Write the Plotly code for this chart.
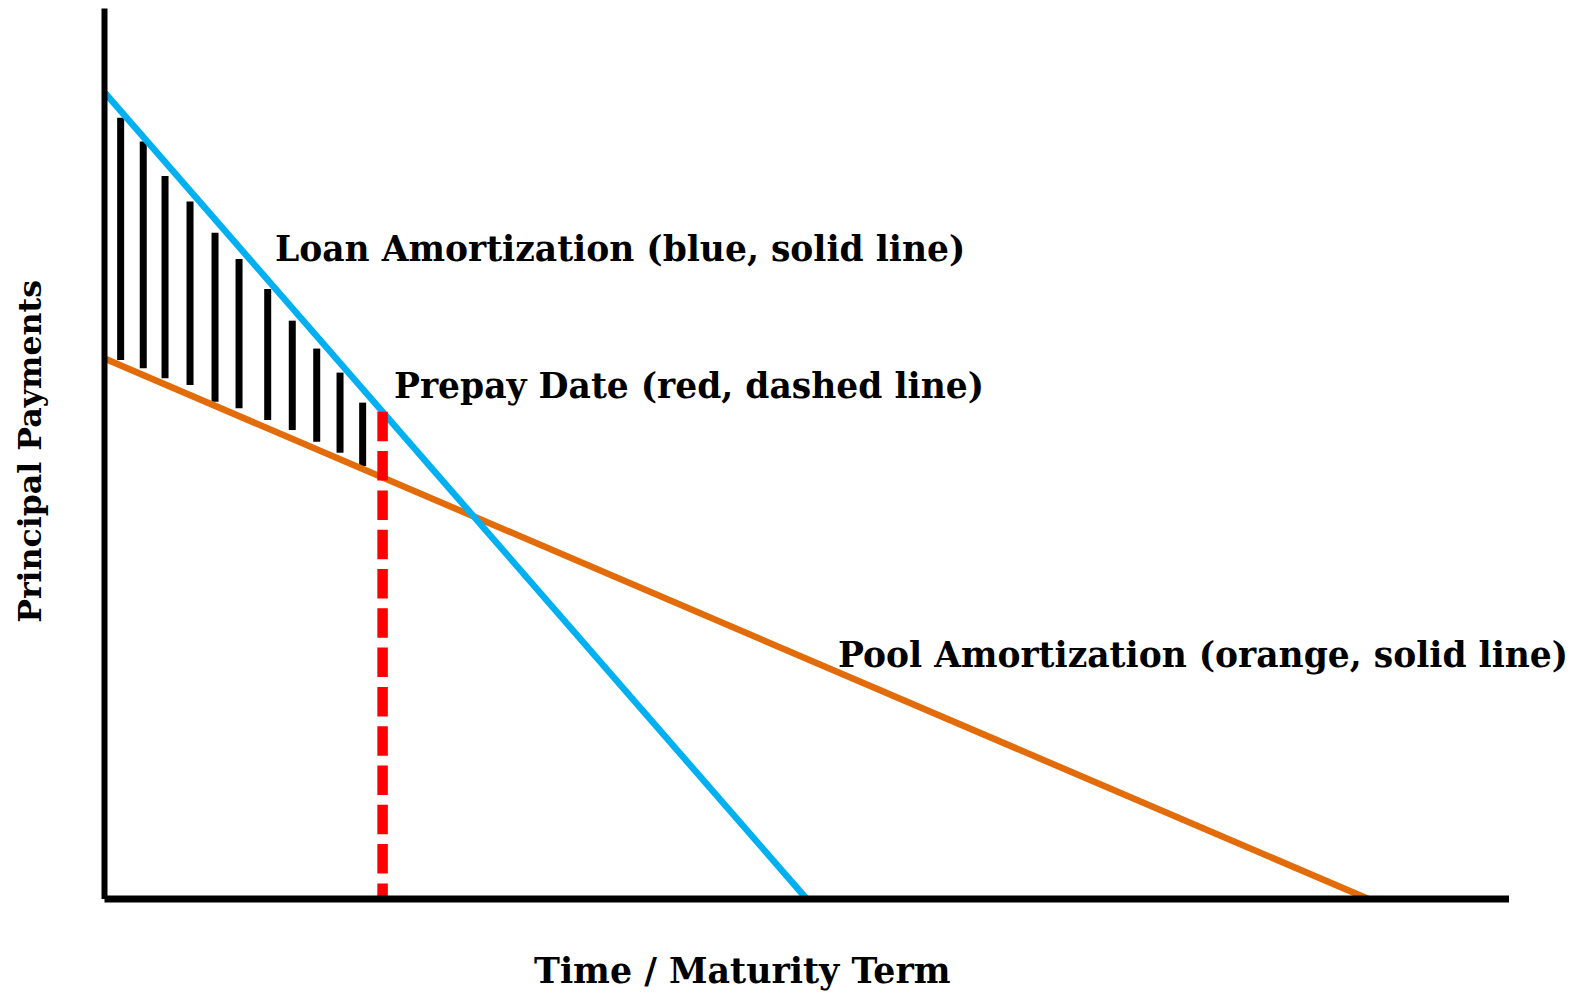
import plotly.graph_objects as go

# ---- data ----
loan_x = [0, 50]
loan_y = [100, 0]
pool_x = [0, 90]
pool_y = [67, 0]
prepay_x = [19.8, 19.8]
prepay_y = [60.4, 0]
hatch_x = [1.15, 2.76, 4.31, 6.09, 7.87, 9.58, 11.62, 13.37, 15.11, 16.77, 18.38]
hatch_top = [96.85, 93.9, 89.65, 86.47, 82.59, 79.35, 75.63, 71.7, 68.24, 65.26, 61.54]
hatch_bottom = [66.82, 65.79, 64.55, 63.72, 61.65, 60.83, 59.39, 58.14, 56.69, 55.33, 53.68]
x_axis_end = 100
y_axis_end = 110.4
labels = ["Loan Amortization (blue, solid line)",
          "Prepay Date (red, dashed line)",
          "Pool Amortization (orange, solid line)"]
label_pos = [(12.03, 80.6), (20.45, 63.6), (52.05, 30.2)]
x_title = "Time / Maturity Term"
y_title = "Principal Payments"

FONT = "DejaVu Serif"
S = 1574 / 1568  # shrunk-reading scale (used for title placement)
OFF = 8  # page body margin
W, H = 1574 - OFF, 996 - OFF
X0, Y0 = 104.5, 899.0       # page pixel of data origin
PXX = (1509 - X0) / 100     # pixels per x unit
PXY = (Y0 - 92.4) / 100     # pixels per y unit
L, R, T, B = 80 - OFF, 50, 0, 80
plot_left, plot_right = 80, 1574 - R           # page pixels
plot_top, plot_bottom = OFF, 996 - B

hx, hy = [], []
for x, t, b in zip(hatch_x, hatch_top, hatch_bottom):
    hx += [x, x, None]
    hy += [b, t, None]

fig = go.Figure()
fig.add_trace(go.Scatter(x=hx, y=hy, mode="lines",
                         line=dict(color="black", width=7), hoverinfo="skip"))
fig.add_trace(go.Scatter(x=pool_x, y=pool_y, mode="lines",
                         line=dict(color="#E36C0A", width=6.5)))
fig.add_trace(go.Scatter(x=loan_x, y=loan_y, mode="lines",
                         line=dict(color="#00B0F0", width=6.5)))
fig.add_trace(go.Scatter(x=prepay_x, y=prepay_y, mode="lines",
                         line=dict(color="#FF0000", width=10.5, dash="29.5px,9.8px")))
# axes lines
fig.add_trace(go.Scatter(x=[0, 0], y=[0, y_axis_end], mode="lines",
                         line=dict(color="black", width=6)))
fig.add_trace(go.Scatter(x=[0, x_axis_end], y=[0, 0], mode="lines",
                         line=dict(color="black", width=7)))

for txt, (x, y) in zip(labels, label_pos):
    fig.add_annotation(x=x, y=y, xref="x", yref="y", text="<b>%s</b>" % txt,
                       showarrow=False, xanchor="left", yanchor="middle",
                       font=dict(family=FONT, size=34.5, color="black"))

pw, ph = W - L - R, H - T - B


def paper_xy(px, py):
    # shrunk-reference pixel -> paper fraction
    px, py = px * S, py * S
    return (px - plot_left) / pw, (plot_bottom - py) / ph


ax, ay = paper_xy(740, 967)
fig.add_annotation(x=ax, y=ay, xref="paper", yref="paper",
                   text="<b>%s</b>" % x_title, showarrow=False,
                   xanchor="center", yanchor="middle",
                   font=dict(family=FONT, size=34.8, color="black"))
bx, by = paper_xy(30, 450)
fig.add_annotation(x=bx, y=by, xref="paper", yref="paper",
                   text="<b>%s</b>" % y_title, showarrow=False, textangle=-90,
                   xanchor="center", yanchor="middle",
                   font=dict(family=FONT, size=31.6, color="black"))

fig.update_layout(
    width=W, height=H, showlegend=False,
    plot_bgcolor="white", paper_bgcolor="white",
    margin=dict(l=L, r=R, t=T, b=B),
    xaxis=dict(range=[(plot_left - X0) / PXX, (plot_right - X0) / PXX],
               visible=False, fixedrange=True),
    yaxis=dict(range=[(Y0 - plot_bottom) / PXY, (Y0 - plot_top) / PXY],
               visible=False, fixedrange=True),
)

fig.write_html("out.html")
